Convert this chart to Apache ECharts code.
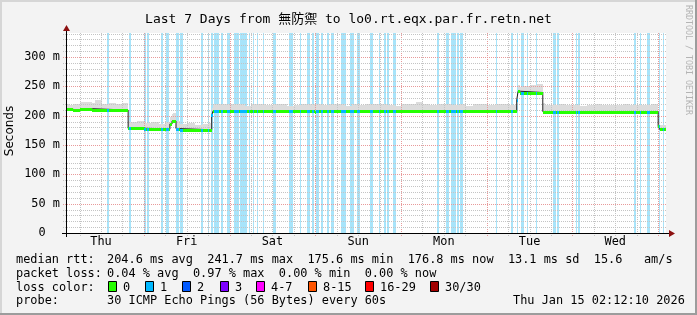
<!DOCTYPE html>
<html><head><meta charset="utf-8">
<script src="https://cdn.jsdelivr.net/npm/echarts@6/dist/echarts.min.js"></script>
<style>html,body{margin:0;padding:0;background:#f3f3f3}#c{width:697px;height:315px}</style>
</head><body><div id="c"></div>
<script>
// ---------------- data ----------------
const titleText = 'Last 7 Days from 無防禦 to lo0.rt.eqx.par.fr.retn.net';
const dayNames = ['Thu', 'Fri', 'Sat', 'Sun', 'Mon', 'Tue', 'Wed'];
const yTickValues = [0, 50, 100, 150, 200, 250, 300];
// median rtt (ms), piecewise constant, times in hours since graph start (Thu 02:12:10)
const medianTimes  = [0, 1.1, 2.0, 3.9, 7.4, 17.4, 22.0, 26.0, 29.1, 29.7, 30.8, 31.8, 40.8, 41.2, 46.0, 69.6, 70.0, 126.2, 126.6, 127.2, 133.5, 143.3, 143.6, 165.8, 166.2];
const medianValues = [211.9, 210.8, 209.6, 211.9, 209.6, 178.5, 178.0, 177.0, 186.0, 191.0, 178.0, 176.0, 201.0, 208.5, 207.2, 205.8, 207.2, 227.0, 241.7, 239.5, 207.0, 205.8, 207.0, 182.0, 176.8];
// smoke height above the median (ms), 2-hour buckets
const smokeOffsets = [8, 10, 11, 12, 17, 11, 12, 11, 12, 10, 12, 9, 11, 8, 12, 13, 9, 11, 8, 10, 12,
  12, 11, 13, 12, 10, 12, 13, 11, 12, 12, 10, 11, 13, 12, 12, 11, 13, 12, 10, 12, 11, 12, 13, 12, 11, 10, 12, 13, 16, 12, 11, 12, 13, 11, 12, 10, 12, 13, 11, 12, 12, 11,
  10, 11, 12, 14,
  12, 11, 13, 12, 12, 10, 12, 13, 11, 12, 12, 13, 11, 12, 12, 13, 7];
// packet loss (loss level 1) intervals, hours since start
const lossStarts = [11.5, 17.6, 21.8, 22.7, 26.6, 28.0, 30.8, 31.9, 37.8, 39.8, 40.6, 41.4, 43.4, 45.1, 47.0, 48.7, 51.2, 52.4, 53.5, 55.2, 58.0, 62.4, 65.5, 67.5, 68.9, 70.0, 71.4, 73.1, 74.2, 77.0, 79.5, 81.5, 85.1, 87.6, 89.0, 89.9, 91.6, 103.9, 106.4, 107.8, 109.5, 110.3, 120.4, 124.6, 126.3, 127.4, 129.1, 131.6, 136.4, 137.5, 142.8, 143.4, 159.0, 160.7, 162.7, 166.0, 167.2];
const lossEnds   = [12.0, 18.2, 22.4, 23.2, 27.2, 28.8, 31.6, 32.8, 38.4, 40.0, 41.2, 42.8, 44.0, 45.9, 48.4, 50.7, 51.5, 52.6, 53.8, 55.4, 58.8, 63.6, 65.8, 68.3, 69.4, 70.8, 72.0, 73.6, 75.0, 78.4, 80.6, 82.3, 86.0, 87.9, 89.6, 90.4, 92.4, 104.4, 107.2, 109.2, 110.0, 111.2, 120.7, 125.2, 126.6, 128.2, 129.4, 131.9, 137.2, 138.0, 143.1, 143.9, 159.6, 161.0, 163.5, 166.3, 167.4];
const lossLabels = ['0', '1', '2', '3', '4-7', '8-15', '16-29', '30/30'];
const lossColors = ['#26ff00', '#00b8ff', '#0059ff', '#7e00ff', '#ff00ff', '#ff5500', '#ff0000', '#a10000'];
const rttLabel = 'median rtt:';
const rttText = '204.6 ms avg  241.7 ms max  175.6 ms min  176.8 ms now  13.1 ms sd  15.6   am/s';
const plLabel = 'packet loss:';
const plText = '0.04 % avg  0.97 % max  0.00 % min  0.00 % now';
const lcLabel = 'loss color:';
const probeLabel = 'probe:';
const probeText = '30 ICMP Echo Pings (56 Bytes) every 60s';
const stampText = 'Thu Jan 15 02:12:10 2026';
const watermark = 'RRDTOOL / TOBI OETIKER';

// ---------------- setup ----------------
const START_HOUR = 2 + 12 / 60 + 10 / 3600;
const SPAN = 168, Y_MAX = 341;
const firstMidnight = 24 - START_HOUR;
const noonValues = dayNames.map((d, i) => firstMidnight - 12 + 24 * i);
const MONO = '"DejaVu Sans Mono", "Noto Sans CJK TC", monospace';
const FOOT_FONT = '11.9px ' + MONO;
const LOSS_BG = '#a8e4fa';

function segIndex(t) {
  let k = 0;
  for (let i = 0; i < medianTimes.length; i++) if (medianTimes[i] <= t) k = i;
  return k;
}
const segEnd = i => (i < medianTimes.length - 1 ? medianTimes[i + 1] : SPAN);

const gridV = [];
for (let t = firstMidnight - 18; t < SPAN; t += 6) {
  if (t <= 0) continue;
  const k = (t - firstMidnight) / 24;
  gridV.push([t, 0, Math.abs(k - Math.round(k)) < 1e-6 ? 1 : 0]);
}
const gridH = [];
for (let v = 10; v < Y_MAX; v += 10) gridH.push([0, v, v % 50 === 0 ? 1 : 0]);

const chart = echarts.init(document.getElementById('c'), null, { renderer: 'canvas' });

const footer = [];
const rows = [259.5, 273.5, 287.5, 301];
[[rttLabel, rttText], [plLabel, plText], [lcLabel, null], [probeLabel, probeText]].forEach((r, i) => {
  footer.push({ type: 'text', x: 16, y: rows[i], style: { text: r[0], font: FOOT_FONT, fill: '#000', verticalAlign: 'middle' } });
  if (r[1]) footer.push({ type: 'text', x: 107, y: rows[i], style: { text: r[1], font: FOOT_FONT, fill: '#000', verticalAlign: 'middle' } });
});
footer.push({ type: 'text', x: 513, y: rows[3], style: { text: stampText, font: FOOT_FONT, fill: '#000', verticalAlign: 'middle' } });
const boxX = [108, 145, 182, 219.6, 256.4, 307.6, 365.3, 430.2];
lossLabels.forEach((l, i) => {
  const bx = Math.round(boxX[i]);
  footer.push({ type: 'rect', shape: { x: bx + 0.5, y: 281.5, width: 8, height: 10 }, style: { fill: lossColors[i], stroke: '#000', lineWidth: 1 } });
  footer.push({ type: 'text', x: bx + 15, y: rows[2], style: { text: l, font: FOOT_FONT, fill: '#000', verticalAlign: 'middle' } });
});

const decor = [
  { type: 'rect', shape: { x: 0, y: 0, width: 697, height: 2 }, style: { fill: '#d6d6d6' }, silent: true },
  { type: 'rect', shape: { x: 0, y: 0, width: 2, height: 315 }, style: { fill: '#d6d6d6' }, silent: true },
  { type: 'rect', shape: { x: 695, y: 0, width: 2, height: 315 }, style: { fill: '#9c9c9c' }, silent: true },
  { type: 'rect', shape: { x: 0, y: 313, width: 697, height: 2 }, style: { fill: '#9c9c9c' }, silent: true },
  // axis lines + arrows
  { type: 'line', shape: { x1: 62, y1: 233.5, x2: 670, y2: 233.5 }, style: { stroke: '#000', lineWidth: 1 }, z: 50 },
  { type: 'line', shape: { x1: 66.5, y1: 237, x2: 66.5, y2: 30 }, style: { stroke: '#000', lineWidth: 1 }, z: 50 },
  { type: 'polygon', shape: { points: [[669, 230], [675, 233.5], [669, 237]] }, style: { fill: '#8c1010' }, z: 51 },
  { type: 'polygon', shape: { points: [[63, 31], [66.5, 25], [70, 31]] }, style: { fill: '#8c1010' }, z: 51 },
  { type: 'text', x: 10, y: 131, rotation: Math.PI / 2, style: { text: 'Seconds', font: '12px "DejaVu Sans"', fill: '#000', align: 'center', verticalAlign: 'middle' } },
  { type: 'text', x: 688, y: 5, rotation: -Math.PI / 2, style: { text: watermark, font: '8.3px ' + MONO, fill: '#b4b4b4', align: 'left', verticalAlign: 'middle' } }
];

const option = {
  backgroundColor: '#f3f3f3',
  animation: false,
  title: { text: titleText, left: 'center', top: 8, textStyle: { fontFamily: MONO, fontSize: 13, fontWeight: 'normal', color: '#000' } },
  grid: { left: 66, top: 33, width: 600, height: 200, show: true, backgroundColor: '#ffffff', borderWidth: 0 },
  xAxis: {
    type: 'value', min: 0, max: SPAN,
    axisLine: { show: false }, axisTick: { show: false }, splitLine: { show: false },
    axisLabel: { customValues: noonValues, formatter: v => dayNames[Math.round((v - noonValues[0]) / 24)], fontFamily: MONO, fontSize: 11.9, color: '#000', margin: 3 }
  },
  yAxis: {
    type: 'value', min: 0, max: Y_MAX, interval: 50,
    axisLine: { show: false }, axisTick: { show: false }, splitLine: { show: false },
    axisLabel: { customValues: yTickValues, formatter: v => (v === 0 ? '0  ' : v + ' m'), fontFamily: MONO, fontSize: 11.9, color: '#000', margin: 6 }
  },
  graphic: decor.concat(footer),
  series: [
    { // loss background bars
      type: 'custom', z: 1, silent: true,
      data: lossStarts.map((s, i) => [s, lossEnds[i]]),
      renderItem: (p, api) => {
        const a = api.coord([api.value(0), Y_MAX]), b = api.coord([api.value(1), 0]);
        let x0 = Math.round(a[0]), x1 = Math.round(b[0]);
        if (x1 - x0 < 1) x1 = x0 + 1;
        return { type: 'rect', shape: { x: x0, y: Math.round(a[1]), width: x1 - x0, height: Math.round(b[1]) - Math.round(a[1]) }, style: { fill: LOSS_BG } };
      }
    },
    { // smoke
      type: 'custom', z: 2, silent: true,
      data: smokeOffsets.map((o, i) => [i * 2, o]),
      renderItem: (p, api) => {
        const t0 = api.value(0), t1 = t0 + 2, off = api.value(1);
        const children = [];
        for (let j = 0; j < medianTimes.length; j++) {
          const a = Math.max(t0, medianTimes[j]), b = Math.min(t1, segEnd(j));
          if (b <= a) continue;
          const v = medianValues[j];
          const p0 = api.coord([a, v + off]), p1 = api.coord([b, v]);
          const x0 = Math.round(p0[0]), x1 = Math.round(p1[0]);
          if (x1 <= x0) continue;
          children.push({ type: 'rect', shape: { x: x0, y: Math.round(p0[1]), width: x1 - x0, height: Math.round(p1[1]) - Math.round(p0[1]) }, style: { fill: '#dcdcdc' } });
        }
        return { type: 'group', children };
      }
    },
    { // vertical grid
      type: 'custom', z: 3, silent: true, data: gridV,
      renderItem: (p, api) => {
        const a = api.coord([api.value(0), Y_MAX]), b = api.coord([api.value(0), 0]);
        const x = Math.round(a[0]) + 0.5;
        return { type: 'line', shape: { x1: x, y1: Math.round(a[1]), x2: x, y2: Math.round(b[1]) + 3 }, style: { stroke: api.value(2) ? '#e89a9a' : '#c4c4c4', lineWidth: 1, lineDash: [1, 1] } };
      }
    },
    { // horizontal grid
      type: 'custom', z: 3, silent: true, data: gridH,
      renderItem: (p, api) => {
        const a = api.coord([0, api.value(1)]), b = api.coord([SPAN, api.value(1)]);
        const y = Math.round(a[1]) + 0.5;
        return { type: 'line', shape: { x1: Math.round(a[0]) - 3, y1: y, x2: Math.round(b[0]), y2: y }, style: { stroke: api.value(2) ? '#e89a9a' : '#c4c4c4', lineWidth: 1, lineDash: [1, 1] } };
      }
    },
    { // median step line (dark)
      type: 'line', z: 4, silent: true, step: 'end', symbol: 'none',
      data: medianTimes.map((t, i) => [t, medianValues[i]]).concat([[SPAN, medianValues[medianValues.length - 1]]]),
      lineStyle: { color: '#202020', width: 1 }
    },
    { // median colored by loss (0 = green)
      type: 'custom', z: 5, silent: true,
      data: medianTimes.map((t, i) => [t, medianValues[i], segEnd(i)]),
      renderItem: (p, api) => {
        const a = api.coord([api.value(0), api.value(1)]), b = api.coord([api.value(2), api.value(1)]);
        const x0 = Math.round(a[0]), x1 = Math.round(b[0]);
        return { type: 'rect', shape: { x: x0, y: Math.round(a[1]) - 1, width: Math.max(1, x1 - x0), height: 3 }, style: { fill: lossColors[0] } };
      }
    },
    { // median segments with loss level 1
      type: 'custom', z: 6, silent: true,
      data: lossStarts.map((s, i) => [s, lossEnds[i]]),
      renderItem: (p, api) => {
        const s = api.value(0), e = api.value(1);
        const v = medianValues[segIndex((s + e) / 2)];
        const a = api.coord([s, v]), b = api.coord([e, v]);
        let x0 = Math.round(a[0]), x1 = Math.round(b[0]);
        if (x1 - x0 < 1) x1 = x0 + 1;
        return { type: 'rect', shape: { x: x0, y: Math.round(a[1]) - 1, width: x1 - x0, height: 3 }, style: { fill: lossColors[1] } };
      }
    }
  ]
};
chart.setOption(option);
</script>
</body></html>
